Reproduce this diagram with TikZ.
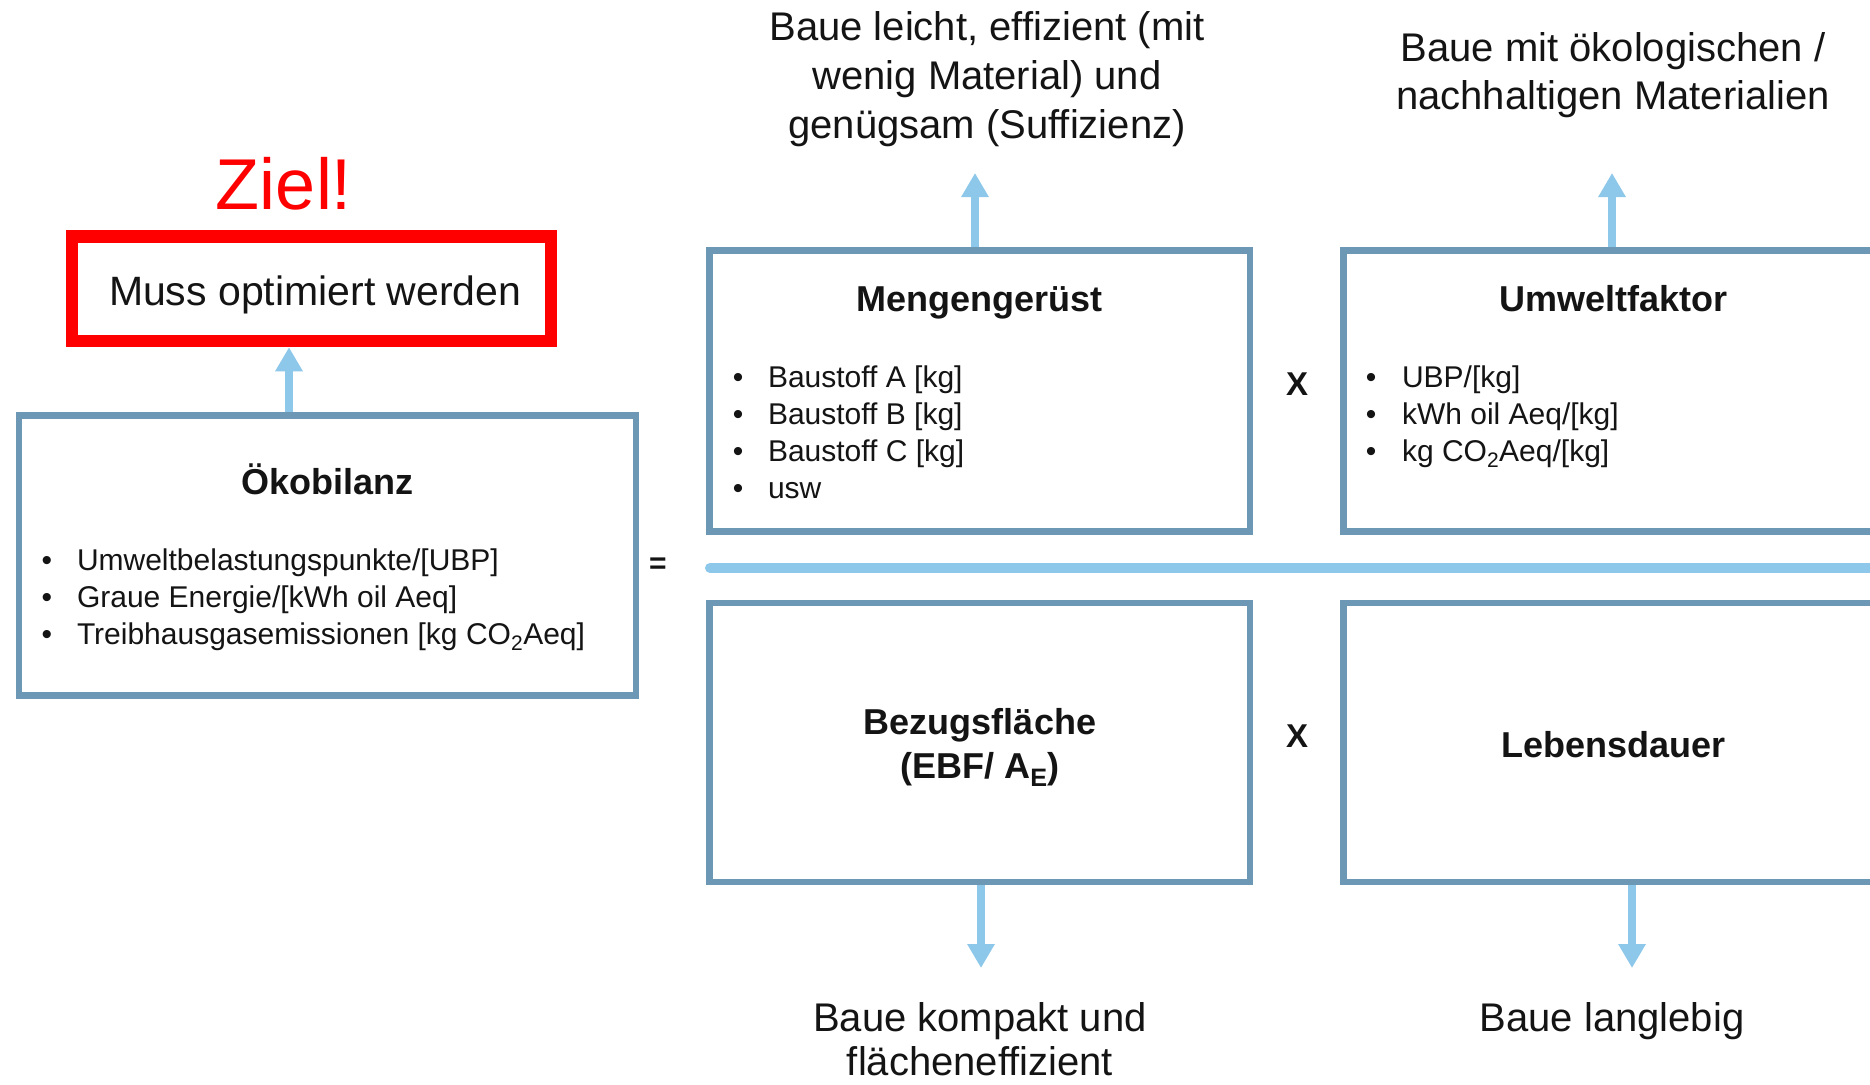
\documentclass[tikz,border=0pt]{standalone}
\usepackage{fontspec}
\setmainfont{Liberation Sans}
\usetikzlibrary{arrows.meta}
\definecolor{boxblue}{HTML}{6C98B6}
\definecolor{lightblue}{HTML}{8DC8EA}
\definecolor{zielred}{HTML}{FF0000}
\definecolor{txt}{HTML}{141414}
\newcommand{\fs}[1]{\fontsize{#1}{#1}\selectfont}
\begin{document}
\begin{tikzpicture}[x=1pt,y=-1pt,
  every node/.style={inner sep=0pt, outer sep=0pt, text=txt},
  bx/.style={draw=boxblue, line width=6.5pt, minimum width=540.5pt, minimum height=281pt, outer sep=3.25pt},
  head/.style={font=\fs{36}\bfseries, anchor=base},
  item/.style={font=\fs{30}, anchor=base west},
  dot/.style={font=\fs{30}, anchor=base},
  outc/.style={font=\fs{40}, anchor=base},
  conn/.style={draw=lightblue, line width=8pt, -{Triangle[width=26pt,length=24pt]}},
  op/.style={font=\fs{33}\bfseries, anchor=center}]
\fill[white] (0,0) rectangle (1870,1084);
\useasboundingbox (0,0) rectangle (1870,1084);

% boxes
\node[bx, minimum width=617pt, minimum height=280pt] (oeko) at (327.5,555.5) {};
\node[bx] (menge) at (979.75,391) {};
\node[bx] (umwelt) at (1613.75,391) {};
\node[bx, minimum height=279pt] (bezug) at (979.75,742.5) {};
\node[bx, minimum height=279pt] (leben) at (1613.75,742.5) {};
\node[draw=zielred, line width=12.5pt, minimum width=479pt, minimum height=104.5pt, outer sep=6.25pt] (ziel) at (311.5,288.75) {};

% goal
\node[font=\fs{72}, text=zielred, anchor=base] (zieltxt) at (284,209) {Ziel!};
\node[font=\fs{41}, anchor=base west] (muss) at (109,305) {Muss optimiert werden};

% Oekobilanz
\node[head] (oekoh) at (327.5,494) {Ökobilanz};
\node[dot] (od1) at (47,570) {•};
\node[dot] (od2) at (47,607) {•};
\node[dot] (od3) at (47,644) {•};
\node[item] (oi1) at (77,570) {Umweltbelastungspunkte/[UBP]};
\node[item] (oi2) at (77,607) {Graue Energie/[kWh oil Aeq]};
\node[item] (oi3) at (77,644) {Treibhausgasemissionen [kg CO\textsubscript{2}Aeq]};

% Mengengeruest
\node[head] (mengeh) at (979.75,311) {Mengengerüst};
\node[dot] (md1) at (738,387) {•};
\node[dot] (md2) at (738,424) {•};
\node[dot] (md3) at (738,461) {•};
\node[dot] (md4) at (738,498) {•};
\node[item] (mi1) at (768,387) {Baustoff A [kg]};
\node[item] (mi2) at (768,424) {Baustoff B [kg]};
\node[item] (mi3) at (768,461) {Baustoff C [kg]};
\node[item] (mi4) at (768,498) {usw};

% Umweltfaktor
\node[head] (umwelth) at (1613.5,311) {Umweltfaktor};
\node[dot] (ud1) at (1371,387) {•};
\node[dot] (ud2) at (1371,424) {•};
\node[dot] (ud3) at (1371,461) {•};
\node[item] (ui1) at (1402,387) {UBP/[kg]};
\node[item] (ui2) at (1402,424) {kWh oil Aeq/[kg]};
\node[item] (ui3) at (1402,461) {kg CO\textsubscript{2}Aeq/[kg]};

% Bezugsflaeche, Lebensdauer
\node[head] (bezugh1) at (980,734) {Bezugsfläche};
\node[head] (bezugh2) at (980,778) {(EBF/ A\textsubscript{E})};
\node[head] (lebenh) at (1613.5,757) {Lebensdauer};

% operators
\node[op, font=\fs{30}\bfseries] (eq) at (658,566) {=};
\node[op] (x1) at (1297,384) {X};
\node[op] (x2) at (1297,736) {X};

% outcomes
\node[outc] (ta1) at (987,40) {Baue leicht, effizient (mit};
\node[outc] (ta2) at (987,89) {wenig Material) und};
\node[outc] (ta3) at (987,138) {genügsam (Suffizienz)};
\node[outc] (tb1) at (1613,61) {Baue mit ökologischen /};
\node[outc] (tb2) at (1613,109) {nachhaltigen Materialien};
\node[outc] (bc1) at (980,1031) {Baue kompakt und};
\node[outc] (bc2) at (980,1075) {flächeneffizient};
\node[outc] (bd1) at (1612,1031) {Baue langlebig};

% main line
\coordinate (l0) at (710,568);
\coordinate (l1) at (1885,568);
\draw[lightblue, line width=10pt, line cap=round] (l0) -- (l1);

% arrows
\coordinate (tipA) at (975,173);
\coordinate (tipB) at (1612,173);
\coordinate (tipC) at (981,968);
\coordinate (tipD) at (1632,968);
\draw[conn] (menge.north -| tipA) -- (tipA);
\draw[conn] (umwelt.north -| tipB) -- (tipB);
\draw[conn] (bezug.south -| tipC) -- (tipC);
\draw[conn] (leben.south -| tipD) -- (tipD);
\draw[conn] ([xshift=-38.5pt]oeko.north) -- ([xshift=-22.5pt]ziel.south);
\end{tikzpicture}
\end{document}
